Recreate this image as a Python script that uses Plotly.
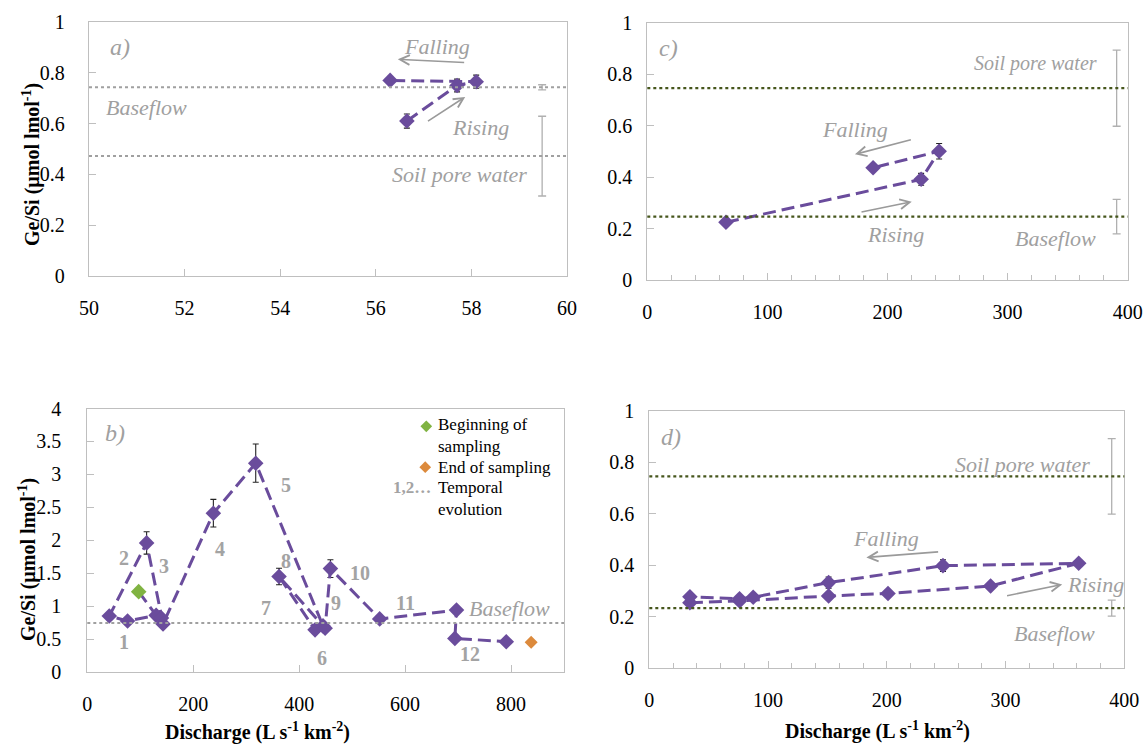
import plotly.graph_objects as go

W, H = 1145, 744

# ---------------- data ----------------
# panel a
a_x = [56.65, 57.7, 58.1, 56.3]
a_y = [0.61, 0.75, 0.765, 0.77]
a_err = [0.028, 0.025, 0.026, 0.01]
a_base, a_base_err = 0.743, 0.01
a_soil, a_soil_err = 0.472, 0.157

# panel b (temporal order, first = beginning of sampling)
b_x = [97, 130, 76, 41.5, 112, 140, 143, 238, 318, 445, 430, 362, 449, 459, 552, 697, 694, 791]
b_y = [1.22, 0.86, 0.775, 0.85, 1.96, 0.82, 0.73, 2.41, 3.17, 0.70, 0.64, 1.45, 0.665, 1.57, 0.806, 0.94, 0.51, 0.46]
b_err = [0, 0.03, 0.03, 0.03, 0.17, 0.04, 0.04, 0.21, 0.29, 0.03, 0.03, 0.125, 0.03, 0.135, 0.05, 0.05, 0.03, 0.03]
b_end_x, b_end_y = [838], [0.45]
b_base = 0.745
b_num_labels = ["1", "2", "3", "4", "5", "6", "7", "8", "9", "10", "11", "12"]
b_num_x = [70, 70, 145, 250, 375, 444, 337, 375, 469, 515, 600, 723]
b_num_y = [0.46, 1.73, 1.61, 1.87, 2.84, 0.22, 0.97, 1.68, 1.05, 1.5, 1.04, 0.27]

# panel c
c_x = [65.5, 228, 243, 188]
c_y = [0.224, 0.391, 0.50, 0.436]
c_err = [0.01, 0.023, 0.03, 0.01]
c_base, c_base_err = 0.246, 0.067
c_soil, c_soil_err = 0.745, 0.148

# panel d
d_x = [34.2, 76, 151, 201, 287.4, 361.6, 247.3, 151, 87.5, 76, 34.2]
d_y = [0.255, 0.262, 0.281, 0.291, 0.32, 0.408, 0.399, 0.333, 0.276, 0.27, 0.278]
d_err = [0.008, 0.008, 0.01, 0.01, 0.01, 0.012, 0.023, 0.022, 0.01, 0.008, 0.008]
d_base, d_base_err = 0.234, 0.031
d_soil, d_soil_err = 0.746, 0.147

# ---------------- style ----------------
PURPLE = "#6a4c9c"
GREEN = "#80b342"
ORANGE = "#dc8a3c"
GRAY = "#a0a0a0"
OLIVE = "#46561c"
FRAME = "#bfbfbf"
SERIF = "Liberation Serif"

fig = go.Figure()


def px2x(p):
    return p / W


def py2y(p):
    return 1 - p / H


domains = {
    "a": ([px2x(89), px2x(567)], [py2y(276), py2y(22)]),
    "b": ([px2x(87.3), px2x(564)], [py2y(672), py2y(408.5)]),
    "c": ([px2x(647.3), px2x(1127.7)], [py2y(280), py2y(22.5)]),
    "d": ([px2x(649.3), px2x(1124.3)], [py2y(668.3), py2y(411)]),
}
axis_ids = {"a": ("x", "y"), "b": ("x2", "y2"), "c": ("x3", "y3"), "d": ("x4", "y4")}


def data_trace(panel, xs, ys, errs, colors=None):
    xa, ya = axis_ids[panel]
    fig.add_trace(go.Scatter(
        x=xs, y=ys, xaxis=xa, yaxis=ya, mode="lines+markers",
        line=dict(color=PURPLE, width=3, dash="13px,6px"),
        marker=dict(symbol="diamond", size=12, color=colors if colors else PURPLE),
        error_y=dict(type="data", array=errs, color="#222222", thickness=1.1, width=3),
        showlegend=False, hoverinfo="skip"))


def ref_bar(panel, x, y, err):
    xa, ya = axis_ids[panel]
    fig.add_trace(go.Scatter(
        x=[x], y=[y], xaxis=xa, yaxis=ya, mode="markers",
        marker=dict(size=1, color=GRAY),
        error_y=dict(type="data", array=[err], color="#b0b0b0", thickness=1.3, width=4),
        showlegend=False, hoverinfo="skip"))


def hline(panel, y, color, width):
    xa, ya = axis_ids[panel]
    fig.add_shape(type="line", xref=xa + " domain", yref=ya, x0=0, x1=1, y0=y, y1=y,
                  line=dict(color=color, width=width, dash="dot"))


def text(panel, x, y, s, size=20, color=GRAY, italic=True, xanchor="center", bold=False):
    xa, ya = axis_ids[panel]
    t = s
    if bold:
        t = "<b>" + t + "</b>"
    if italic:
        t = "<i>" + t + "</i>"
    fig.add_annotation(x=x, y=y, xref=xa, yref=ya, text=t, showarrow=False,
                       xanchor=xanchor, yanchor="middle",
                       font=dict(family=SERIF, size=size, color=color))


def arrow(panel, x0, y0, x1, y1):
    xa, ya = axis_ids[panel]
    fig.add_annotation(x=x1, y=y1, ax=x0, ay=y0, xref=xa, yref=ya, axref=xa, ayref=ya,
                       text="", showarrow=True, arrowhead=5, arrowsize=1.2,
                       arrowwidth=1.6, arrowcolor="#9a9a9a",
                       font=dict(family=SERIF, size=12))


# ----- panel a -----
hline("a", a_base, GRAY, 2)
hline("a", a_soil, GRAY, 2)
ref_bar("a", 59.48, a_base, a_base_err)
ref_bar("a", 59.48, a_soil, a_soil_err)
data_trace("a", a_x, a_y, a_err)
text("a", 50.4, 0.903, "a)", size=24, xanchor="left")
text("a", 57.29, 0.903, "Falling", size=22)
arrow("a", 57.88, 0.84, 56.46, 0.853)
text("a", 58.18, 0.585, "Rising", size=22)
arrow("a", 57.06, 0.606, 57.87, 0.705)
text("a", 51.2, 0.664, "Baseflow", size=22)
text("a", 57.76, 0.398, "Soil pore water", size=22)

# ----- panel b -----
hline("b", b_base, GRAY, 2)
b_colors = [GREEN] + [PURPLE] * (len(b_x) - 1)
data_trace("b", b_x, b_y, b_err, colors=b_colors)
fig.add_trace(go.Scatter(x=b_end_x, y=b_end_y, xaxis="x2", yaxis="y2", mode="markers",
                         marker=dict(symbol="diamond", size=10, color=ORANGE),
                         showlegend=False, hoverinfo="skip"))
for lab, lx, ly in zip(b_num_labels, b_num_x, b_num_y):
    text("b", lx, ly, lab, size=20, color="#a3a3a3", italic=False, bold=True)
text("b", 30, 3.63, "b)", size=24, xanchor="left")
text("b", 797, 0.97, "Baseflow", size=22)
# legend inside panel b
fig.add_trace(go.Scatter(x=[640], y=[3.73], xaxis="x2", yaxis="y2", mode="markers",
                         marker=dict(symbol="diamond", size=9, color=GREEN),
                         showlegend=False, hoverinfo="skip"))
fig.add_trace(go.Scatter(x=[638], y=[3.11], xaxis="x2", yaxis="y2", mode="markers",
                         marker=dict(symbol="diamond", size=9, color=ORANGE),
                         showlegend=False, hoverinfo="skip"))
for s, yy in [("Beginning of", 3.75), ("sampling", 3.43), ("End of sampling", 3.11),
              ("Temporal", 2.80), ("evolution", 2.46)]:
    text("b", 658, yy, s, size=17, color="black", italic=False, xanchor="left")
text("b", 652, 2.80, "1,2…", size=17, color="#a3a3a3", italic=False, xanchor="right", bold=True)

# ----- panel c -----
hline("c", c_base, OLIVE, 2.4)
hline("c", c_soil, OLIVE, 2.4)
ref_bar("c", 390.8, c_soil, c_soil_err)
ref_bar("c", 390.8, c_base, c_base_err)
data_trace("c", c_x, c_y, c_err)
text("c", 8, 0.9, "c)", size=24, xanchor="left")
text("c", 323.6, 0.842, "Soil pore water", size=20)
text("c", 172.8, 0.585, "Falling", size=22)
arrow("c", 220.7, 0.546, 172.9, 0.488)
text("c", 206.8, 0.175, "Rising", size=22)
arrow("c", 177.1, 0.263, 220.2, 0.304)
text("c", 339.5, 0.162, "Baseflow", size=22)

# ----- panel d -----
hline("d", d_base, OLIVE, 2.4)
hline("d", d_soil, OLIVE, 2.4)
ref_bar("d", 389.4, d_soil, d_soil_err)
ref_bar("d", 389.4, d_base, d_base_err)
data_trace("d", d_x, d_y, d_err)
text("d", 8, 0.9, "d)", size=24, xanchor="left")
text("d", 314, 0.793, "Soil pore water", size=22)
text("d", 199.7, 0.505, "Falling", size=22)
arrow("d", 244.5, 0.453, 182.8, 0.431)
text("d", 376, 0.326, "Rising", size=22)
arrow("d", 300, 0.281, 347.7, 0.326)
text("d", 341, 0.136, "Baseflow", size=22)

# ----- axes -----
tickfont = dict(family=SERIF, size=20, color="black")


def axis_common():
    return dict(showline=True, mirror=True, linecolor=FRAME, linewidth=1.3,
                ticks="inside", tickcolor=FRAME, ticklen=7, tickwidth=1.3,
                showgrid=False, zeroline=False, tickfont=tickfont, fixedrange=True,
                automargin=False)


layout_axes = {}
xr = {"a": [50, 60], "b": [0, 900], "c": [0, 400], "d": [0, 400]}
xd = {"a": 2, "b": 200, "c": 100, "d": 100}
yr = {"a": [0, 1], "b": [0, 4], "c": [0, 1], "d": [0, 1]}
yd = {"a": 0.2, "b": 0.5, "c": 0.2, "d": 0.2}
ystand = {"a": 19, "b": 21, "c": 10, "d": 10}
for i, p in enumerate(["a", "b", "c", "d"]):
    suffix = "" if i == 0 else str(i + 1)
    xa = axis_common()
    xa.update(domain=domains[p][0], range=xr[p], dtick=xd[p], tick0=0,
              anchor="y" + suffix, ticklabelstandoff=14)
    if p in ("c", "d"):
        xa["minor"] = dict(dtick=20, ticks="inside", ticklen=5, tickcolor=FRAME, showgrid=False)
    ya = axis_common()
    ya.update(domain=domains[p][1], range=yr[p], dtick=yd[p], tick0=0,
              anchor="x" + suffix, ticklabelstandoff=ystand[p])
    layout_axes["xaxis" + suffix] = xa
    layout_axes["yaxis" + suffix] = ya

fig.update_layout(**layout_axes)

# axis titles as annotations
ytitle = "<b>Ge/Si (µmol lmol<sup>-1</sup>)</b>"
xtitle = "<b>Discharge (L s<sup>-1</sup> km<sup>-2</sup>)</b>"
for (xx, yy) in [(31, 165), (27, 560)]:
    fig.add_annotation(x=px2x(xx), y=py2y(yy), xref="paper", yref="paper", text=ytitle,
                       textangle=-90, showarrow=False, xanchor="center", yanchor="middle",
                       font=dict(family=SERIF, size=20, color="black"))
for (xx, yy) in [(257, 731), (877, 730)]:
    fig.add_annotation(x=px2x(xx), y=py2y(yy), xref="paper", yref="paper", text=xtitle,
                       showarrow=False, xanchor="center", yanchor="middle",
                       font=dict(family=SERIF, size=20, color="black"))

fig.update_layout(width=W, height=H, autosize=False,
                  margin=dict(l=0, r=0, t=0, b=0),
                  font=dict(family=SERIF),
                  paper_bgcolor="white", plot_bgcolor="white", showlegend=False)

fig.write_html("out.html", config={"displayModeBar": False},
               post_script="document.body.style.margin='0';document.body.style.padding='0';")
